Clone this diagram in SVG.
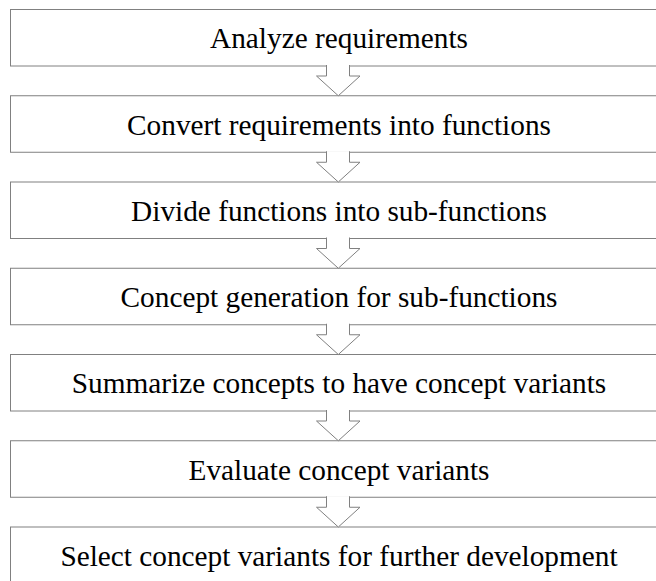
<svg xmlns="http://www.w3.org/2000/svg" width="656" height="581" viewBox="0 0 656 581">
  <style>
    .box { fill: #ffffff; stroke: #808080; stroke-width: 1; }
    .lbl { font-family: "Liberation Serif", "Times New Roman", serif; font-size: 29.3px; fill: #000000; text-anchor: middle; }
    .arrow { fill: #ffffff; stroke: #808080; stroke-width: 1; stroke-linejoin: miter; }
  </style>
  <rect width="656" height="581" fill="#ffffff"/>

  <g id="step1"><rect class="box" x="10.5" y="9.5" width="656" height="56.5"/><text class="lbl" x="339" y="48.3">Analyze requirements</text></g>
  <g id="step2"><rect class="box" x="10.5" y="95.75" width="656" height="56.5"/><text class="lbl" x="339" y="134.55">Convert requirements into functions</text></g>
  <g id="step3"><rect class="box" x="10.5" y="182" width="656" height="56.5"/><text class="lbl" x="339" y="220.8">Divide functions into sub-functions</text></g>
  <g id="step4"><rect class="box" x="10.5" y="268.25" width="656" height="56.5"/><text class="lbl" x="339" y="307.05">Concept generation for sub-functions</text></g>
  <g id="step5"><rect class="box" x="10.5" y="354.5" width="656" height="56.5"/><text class="lbl" x="339" y="393.3">Summarize concepts to have concept variants</text></g>
  <g id="step6"><rect class="box" x="10.5" y="440.75" width="656" height="56.5"/><text class="lbl" x="339" y="479.55">Evaluate concept variants</text></g>
  <g id="step7"><rect class="box" x="10.5" y="527" width="656" height="56.5"/><text class="lbl" x="339" y="565.8">Select concept variants for further development</text></g>

  <!-- hollow block arrows between consecutive steps; open at the top so they merge with the box above -->
  <g id="connectors">
    <path class="arrow" d="M326.5,65 V76 H316.5 L338.3,95.75 L360,76 H349.5 V65"/>
    <path class="arrow" d="M326.5,151.25 V162.25 H316.5 L338.3,182 L360,162.25 H349.5 V151.25"/>
    <path class="arrow" d="M326.5,237.5 V248.5 H316.5 L338.3,268.25 L360,248.5 H349.5 V237.5"/>
    <path class="arrow" d="M326.5,323.75 V334.75 H316.5 L338.3,354.5 L360,334.75 H349.5 V323.75"/>
    <path class="arrow" d="M326.5,410 V421 H316.5 L338.3,440.75 L360,421 H349.5 V410"/>
    <path class="arrow" d="M326.5,496.25 V507.25 H316.5 L338.3,527 L360,507.25 H349.5 V496.25"/>
  </g>
</svg>
